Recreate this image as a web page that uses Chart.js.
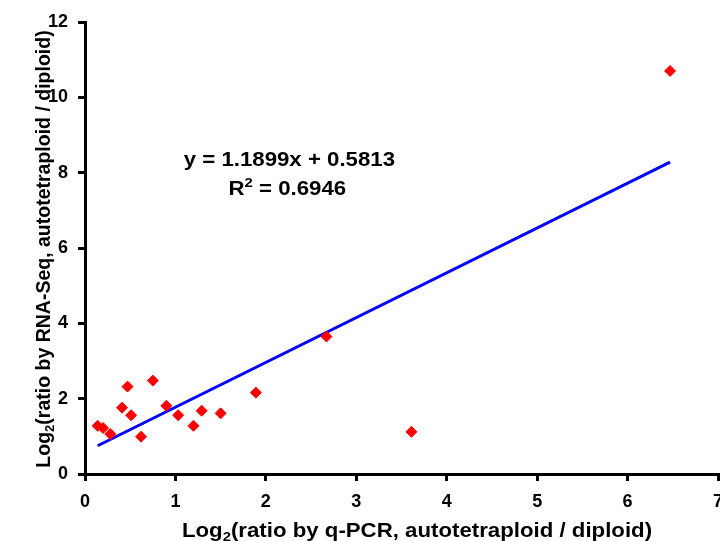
<!DOCTYPE html>
<html><head><meta charset="utf-8">
<script src="https://cdn.jsdelivr.net/npm/chart.js@4/dist/chart.umd.min.js"></script>
<style>
html,body{margin:0;padding:0;overflow:hidden;background:#fff;width:720px;height:541px}
#wrap{position:absolute;left:0;top:0;width:740px;height:541px}
</style>
</head><body>
<div id="wrap"><canvas id="c" width="740" height="541"></canvas></div>
<script>
// Log2 ratio by q-PCR (x) and by RNA-Seq (y)
const qpcrX   = [0.14, 0.20, 0.28, 0.41, 0.47, 0.51, 0.62, 0.75, 0.90, 1.03, 1.20, 1.29, 1.50, 1.89, 2.67, 3.61, 6.47];
const rnaseqY = [1.28, 1.22, 1.06, 1.76, 2.32, 1.56, 0.99, 2.48, 1.81, 1.56, 1.28, 1.68, 1.61, 2.16, 3.65, 1.12, 10.70];
// linear trend line endpoints
const fitX = [0.14, 6.47];
const fitY = [0.75, 8.28];
const xAxisRange = [0, 7];
const yAxisRange = [0, 12];
const xTitle = ['Log', '2', '(ratio by q-PCR, autotetraploid / diploid)'];
const yTitle = ['Log', '2', '(ratio by RNA-Seq, autotetraploid / diploid)'];
const eqText = ['y = 1.1899x + 0.5813', '', ''];
const r2Text = ['R', '2', ' = 0.6946'];

const FONT = '"Liberation Sans", Arial, sans-serif';
const FS = 18;
const TS = 19.5;      // title / annotation font size
const STRETCH = 1.14; // horizontal stretch of text in the reference

function drawRich(ctx, parts, cx, baseY, size, mode, sx) {
  const big = 'bold ' + size + 'px ' + FONT;
  const small = 'bold ' + Math.round(size * 0.68) + 'px ' + FONT;
  const widths = parts.map((p, i) => { ctx.font = (i === 1 ? small : big); return ctx.measureText(p).width; });
  const total = widths.reduce((a, b) => a + b, 0);
  ctx.save();
  ctx.translate(cx, baseY);
  ctx.scale(sx, 1);
  let x = -total / 2;
  ctx.textAlign = 'left';
  ctx.textBaseline = 'alphabetic';
  parts.forEach((p, i) => {
    ctx.font = (i === 1 ? small : big);
    const dy = i === 1 ? (mode === 'sub' ? size * 0.22 : -size * 0.4) : 0;
    ctx.fillText(p, x, dy);
    x += widths[i];
  });
  ctx.restore();
}

const textPlugin = {
  id: 'texts',
  afterDraw(chart) {
    const ctx = chart.ctx;
    const xs = chart.scales.x, ys = chart.scales.y;
    ctx.save();
    ctx.fillStyle = '#000';
    // x title
    drawRich(ctx, xTitle, 417, 537, TS, 'sub', STRETCH);
    // y title
    ctx.save();
    ctx.translate(50, 249);
    ctx.rotate(-Math.PI / 2);
    drawRich(ctx, yTitle, 0, 0, TS, 'sub', 1);
    ctx.restore();
    // equation annotation
    const ex = xs.getPixelForValue(2.26), ey = ys.getPixelForValue(8.17);
    drawRich(ctx, eqText, ex, ey, TS, 'sup', STRETCH);
    drawRich(ctx, r2Text, ex - 2, ey + 29, TS, 'sup', STRETCH);
    ctx.restore();
  }
};

new Chart(document.getElementById('c'), {
  type: 'scatter',
  data: {
    datasets: [
      {
        type: 'line',
        data: fitX.map((x, i) => ({ x: x, y: fitY[i] })),
        borderColor: '#0000FF',
        borderWidth: 3,
        pointRadius: 0,
        fill: false,
        order: 2
      },
      {
        data: qpcrX.map((x, i) => ({ x: x, y: rnaseqY[i] })),
        pointStyle: 'rectRot',
        pointRadius: 5.5,
        backgroundColor: '#FF0000',
        borderColor: '#FF0000',
        borderWidth: 1,
        order: 1
      }
    ]
  },
  options: {
    responsive: false,
    animation: false,
    events: [],
    layout: { padding: { top: 22, right: 22, left: 0, bottom: 0 } },
    plugins: { legend: { display: false }, tooltip: { enabled: false } },
    scales: {
      x: {
        type: 'linear',
        min: xAxisRange[0], max: xAxisRange[1],
        ticks: { stepSize: 1, color: '#000', font: { family: FONT, size: FS, weight: 'bold' }, padding: 10, maxRotation: 0 },
        grid: { drawOnChartArea: false, drawTicks: true, tickLength: 7, lineWidth: 3, color: '#000' },
        border: { display: true, width: 3, color: '#000' },
        afterFit(s) { s.height = 67; }
      },
      y: {
        type: 'linear',
        min: yAxisRange[0], max: yAxisRange[1],
        ticks: { stepSize: 2, color: '#000', font: { family: FONT, size: FS, weight: 'bold' }, padding: 10 },
        grid: { drawOnChartArea: false, drawTicks: true, tickLength: 7, lineWidth: 3, color: '#000' },
        border: { display: true, width: 3, color: '#000' },
        afterFit(s) { s.width = 85; }
      }
    }
  },
  plugins: [textPlugin]
});
</script>
</body></html>
